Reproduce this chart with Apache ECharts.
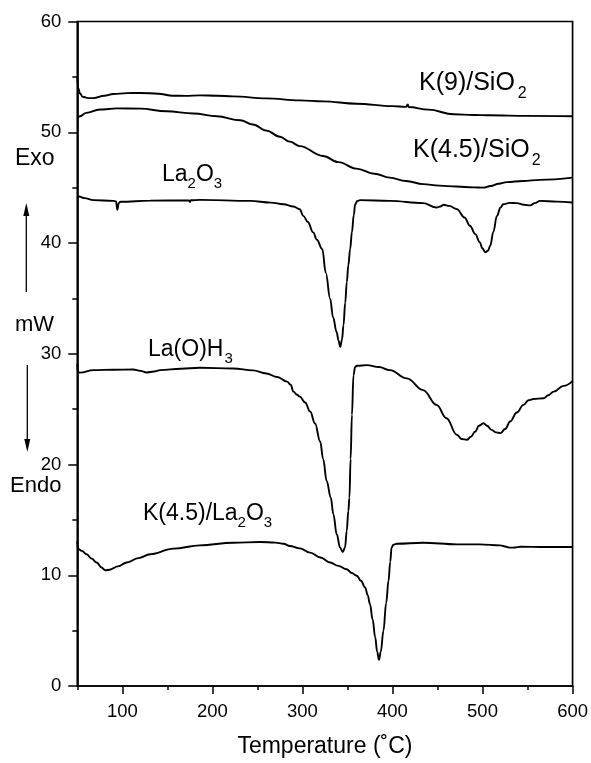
<!DOCTYPE html>
<html><head><meta charset="utf-8">
<script src="https://cdn.jsdelivr.net/npm/echarts@6/dist/echarts.min.js"></script>
<style>html,body{margin:0;padding:0;background:#fff}#c{width:591px;height:763px}</style>
</head><body><div id="c"></div>
<script>
// ---- data: [Temperature (°C), heat flow (mW)] ----
const k9SiO2 = [[50,55.0],[51,54.0],[53,53.5],[56,53.2],[62,53.08],[68,53.08],[80,53.3],[90,53.45],[105,53.53],[120,53.55],[140,53.48],[156,53.3],[170,53.28],[186,53.33],[205,53.3],[223,53.24],[260,53.06],[297,52.88],[323,52.79],[360,52.58],[400,52.36],[415,52.29],[417,52.5],[418,52.28],[440,52.04],[468,51.62],[490,51.56],[508,51.53],[550,51.48],[600,51.44]];
const k45SiO2 = [[50,51.3],[53,51.45],[60,51.75],[75,52.05],[94,52.16],[120,52.13],[149,51.89],[179,51.69],[205,51.44],[231,51.08],[245,50.7],[260,50.15],[275,49.6],[286,49.15],[297,48.75],[323,47.85],[340,47.3],[360,46.72],[380,46.25],[397,45.9],[415,45.6],[434,45.32],[452,45.18],[471,45.1],[490,45.02],[501,45.0],[509,45.15],[518,45.35],[527,45.5],[545,45.6],[564,45.7],[600,45.9]];
const la2o3 = [[50,44.0],[52,44.2],[58,44.05],[68,43.87],[90,43.8],[93,43.75],[94.5,43.0],[96,43.6],[98,43.72],[131,43.83],[174,43.85],[175,43.7],[176,43.86],[186,43.89],[242,43.8],[265,43.65],[279,43.5],[290,43.3],[297,43.05],[301,42.45],[306,41.9],[312,40.96],[316,40.3],[322,39.46],[326,37.3],[330.8,34.97],[334,33.3],[338,31.97],[340,31.2],[342,30.62],[344,31.3],[345.6,32.57],[347.5,34.6],[349.3,36.47],[351,38.0],[353,39.46],[355,41.0],[357,42.5],[358.6,43.5],[361,43.8],[364,43.87],[397,43.8],[434,43.6],[449,43.2],[453,43.3],[457,43.45],[463,43.35],[471.5,43.06],[480,42.3],[486,41.56],[492,40.8],[497,40.06],[500,39.5],[503,39.16],[506,39.3],[508.6,39.76],[512,41.0],[516,42.45],[520,43.2],[523,43.5],[530,43.62],[538,43.6],[546,43.45],[553,43.4],[558,43.6],[564,43.8],[582.6,43.74],[600,43.66]];
const laOH3 = [[50,29.1],[50.5,28.35],[53,28.3],[68,28.52],[90,28.56],[112,28.58],[120,28.45],[127,28.31],[135,28.4],[142,28.52],[165,28.65],[186,28.73],[223,28.67],[245,28.5],[260,28.22],[272,27.9],[283,27.48],[287,27.2],[290,26.58],[294,26.3],[297,26.13],[303,25.6],[308.6,24.78],[314,23.7],[319.7,22.08],[323,20.5],[327,18.5],[331.5,17.0],[334.4,15.5],[338.1,13.7],[341.8,12.5],[344.8,12.1],[347.3,12.5],[349.2,14.0],[351,15.8],[352.2,17.0],[353.5,20.5],[355,24.5],[356.7,28.07],[358.5,28.8],[360.4,28.92],[371.6,28.97],[385,28.8],[397,28.52],[416,27.78],[434,26.72],[449,25.38],[460,24.18],[471.5,22.68],[477,22.3],[482.7,22.23],[487,22.5],[492,22.98],[496,23.5],[501,23.73],[505,23.5],[510,23.13],[515,22.9],[520,22.83],[525,23.2],[530.8,23.88],[538,24.7],[545.6,25.38],[551,25.8],[556.7,25.92],[567.8,25.98],[573,26.25],[579,26.58],[590,27.1],[600,27.53]];
const k45La2O3 = [[50,13.1],[50.5,12.4],[55,12.2],[60.4,11.9],[66,11.5],[71.5,11.15],[77,10.7],[81,10.45],[86,10.5],[95,10.8],[105,11.15],[118,11.55],[131,11.9],[157,12.4],[186,12.7],[223,12.94],[253,13.0],[270,12.95],[279,12.85],[286,12.64],[297,12.43],[308.6,12.04],[320,11.6],[330.8,11.15],[340,10.85],[349,10.54],[355,10.2],[360.4,9.95],[365,9.5],[369.7,8.9],[372.5,8.2],[375,7.4],[378,6.0],[380.8,4.4],[383,3.1],[385,2.36],[387,3.1],[390,5.0],[393,7.5],[395.6,9.5],[397.5,11.2],[399,12.5],[401,12.75],[404.8,12.85],[434,12.94],[471.5,12.79],[497,12.79],[519.7,12.7],[525,12.6],[530.8,12.49],[536,12.5],[542,12.58],[570,12.55],[600,12.55]];
const xMajorTicks = [100,200,300,400,500,600];
const xMinorTicks = [50,150,250,350,450,550];
const seriesNames = ['K(9)/SiO2','K(4.5)/SiO2','La2O3','La(O)H3','K(4.5)/La2O3'];
const seriesData = [k9SiO2, k45SiO2, la2o3, laOH3, k45La2O3];

const FONT_FAMILY = '"Liberation Sans", Arial, Helvetica, sans-serif';
const chart = echarts.init(document.getElementById('c'), null, {renderer: 'canvas'});

const ctx = document.createElement('canvas').getContext('2d');
function measure(t, size) { ctx.font = size + 'px ' + FONT_FAMILY; return ctx.measureText(t).width; }
function txt(t, x, yMid, size) {
  return {type: 'text', x: x, y: yMid, silent: true,
    style: {text: t, font: size + 'px ' + FONT_FAMILY, fill: '#000', align: 'left', verticalAlign: 'middle', textAlign: 'left', textVerticalAlign: 'middle'}};
}
// parts: [text, isSub, gapBefore]
function label(parts, left, baseline, size, subSize, subDrop) {
  const out = []; let x = left;
  parts.forEach(p => {
    const s = p[1] ? subSize : size;
    x += (p[2] || 0);
    const b = p[1] ? baseline + subDrop : baseline;
    out.push(txt(p[0], x, b - 0.3465 * s, s));
    x += measure(p[0], s);
  });
  return out;
}
function arrow(x, yTail, yTip) {
  const dir = yTip < yTail ? 1 : -1;
  return [
    {type: 'line', silent: true, shape: {x1: x, y1: yTail, x2: x, y2: yTip + dir * 8}, style: {stroke: '#000', lineWidth: 1.3}},
    {type: 'polygon', silent: true, shape: {points: [[x, yTip], [x - 3, yTip + dir * 13], [x + 3, yTip + dir * 13]]}, style: {fill: '#000'}}
  ];
}

const graphics = [].concat(
  label([['K(9)/SiO', false], ['2', true, 3]], 419, 91.7, 25, 16, 7),
  label([['K(4.5)/SiO', false], ['2', true, 2]], 413, 158.5, 25, 16, 8),
  label([['La', false], ['2', true, 0], ['O', false, 0], ['3', true, 0]], 162, 182.7, 23, 15, 6.5),
  label([['La(O)H', false], ['3', true, 1]], 148, 357.3, 23, 15, 6.5),
  label([['K(4.5)/La', false], ['2', true, 0], ['O', false, 0], ['3', true, 0]], 143, 521.7, 23, 15, 6.5),
  label([['Exo', false]], 15, 166.7, 23, 15, 0),
  label([['mW', false]], 15, 333, 22, 15, 0),
  label([['Endo', false]], 10, 493.3, 22, 15, 0),
  arrow(26.3, 292, 203),
  arrow(27.3, 365, 452)
);

const axisLineStyle = {color: '#000', width: 1.7};
const option = {
  animation: false,
  backgroundColor: '#fff',
  grid: {left: 77.3, right: 18.3, top: 21.5, bottom: 74, show: true, borderColor: '#000', borderWidth: 1.7, containLabel: false},
  xAxis: [{
    type: 'value', min: 50, max: 600, interval: 50, position: 'bottom',
    name: 'Temperature (˚C)', nameLocation: 'middle', nameGap: 49,
    nameTextStyle: {fontFamily: FONT_FAMILY, fontSize: 23, color: '#000'},
    axisLine: {show: true, lineStyle: axisLineStyle},
    axisTick: {show: true, inside: false, length: 8, customValues: xMajorTicks, lineStyle: {color: '#000', width: 1.5}},
    axisLabel: {show: true, customValues: xMajorTicks, margin: 16, fontFamily: FONT_FAMILY, fontSize: 18.5, color: '#000'},
    splitLine: {show: false}
  }, {
    type: 'value', min: 50, max: 600, interval: 50, position: 'bottom', gridIndex: 0,
    axisLine: {show: false},
    axisTick: {show: true, inside: false, length: 4, customValues: xMinorTicks, lineStyle: {color: '#000', width: 1.5}},
    axisLabel: {show: false}, splitLine: {show: false}
  }],
  yAxis: {
    type: 'value', min: 0, max: 60, interval: 10,
    axisLine: {show: true, lineStyle: axisLineStyle},
    axisTick: {show: true, inside: false, length: 9, lineStyle: {color: '#000', width: 1.5}},
    minorTick: {show: true, splitNumber: 2, length: 5, lineStyle: {color: '#000', width: 1.5}},
    axisLabel: {margin: 16, fontFamily: FONT_FAMILY, fontSize: 18.5, color: '#000'},
    splitLine: {show: false}, minorSplitLine: {show: false}
  },
  series: seriesData.map((d, i) => ({
    name: seriesNames[i], type: 'line', data: d, xAxisIndex: 0,
    showSymbol: false, symbol: 'none', smooth: 0.4, smoothMonotone: 'x',
    lineStyle: {color: '#000', width: 1.9}, silent: true
  })),
  graphic: graphics
};
chart.setOption(option);
</script></body></html>
